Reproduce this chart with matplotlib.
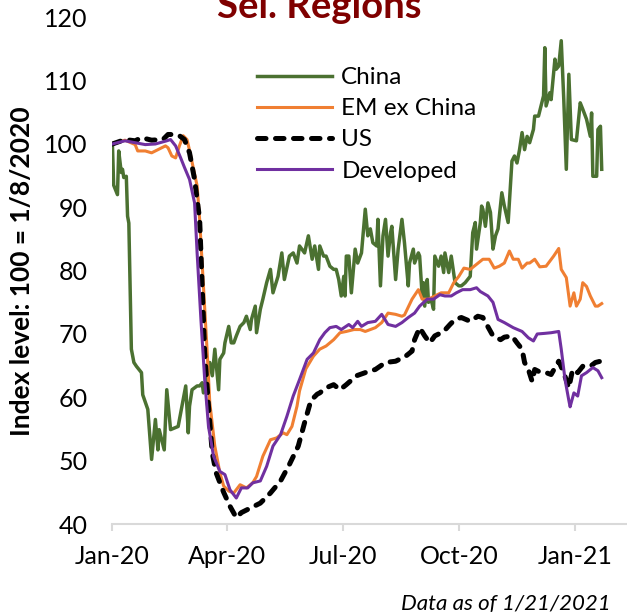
import numpy as np
import matplotlib
matplotlib.use("Agg")
import matplotlib.pyplot as plt
import matplotlib.dates as mdates

plt.rcParams['font.family'] = ['Lato', 'DejaVu Sans']

# days since 2020-01-01 and index level (100 = 1/8/2020)
china_days = [0, 1, 3, 4, 5, 7, 8, 9, 11, 12, 13, 15, 17, 19, 23, 24, 28, 31, 34, 36, 37, 41, 43, 46,
              52, 58, 60, 61, 63, 67, 69, 71, 72, 75, 77, 79, 81, 84, 85, 88, 89, 92, 94, 96, 98, 101,
              104, 106, 109, 110, 113, 114, 117, 119, 122, 125, 127, 131, 134, 136, 140, 143, 146, 148,
              152, 155, 158, 160, 163, 164, 167, 169, 172, 175, 177, 179, 181, 183, 184, 185, 187, 189,
              192, 194, 197, 200, 202, 204, 206, 209, 210, 212, 214, 216, 218, 220, 221, 224, 226, 229,
              231, 234, 235, 238, 239, 242, 243, 245, 246, 247, 249, 250, 252, 254, 255, 258, 260, 262,
              263, 266, 268, 271, 274, 276, 279, 283, 285, 287, 288, 291, 292, 293, 295, 297, 299, 301,
              303, 305, 308, 310, 313, 316, 318, 320, 322, 324, 326, 328, 330, 333, 334, 337, 340, 341,
              342, 343, 346, 347, 350, 351, 353, 355, 357, 359, 361, 363, 367, 370, 372, 375, 378, 379,
              380, 383, 384, 386, 387]
china = [100, 93.5, 92.5, 92.0, 98.9, 95.5, 96.0, 94.7, 94.9, 88.6, 87.5, 67.6, 65.5, 64.9, 63.9, 60.4,
         58.1, 50.2, 56.5, 51.7, 54.9, 51.7, 61.2, 54.9, 55.4, 61.8, 54.4, 58.6, 61.2, 61.8, 61.8, 62.3,
         60.7, 63.4, 65.5, 63.4, 67.6, 61.2, 66.0, 67.0, 68.6, 71.2, 68.6, 68.6, 69.7, 71.2, 71.8, 72.8,
         70.7, 72.3, 74.4, 70.2, 73.9, 75.5, 78.1, 80.2, 76.5, 79.1, 82.8, 78.6, 82.3, 82.8, 81.2, 83.9,
         82.8, 85.5, 81.8, 83.9, 80.2, 83.9, 82.3, 82.3, 80.7, 80.2, 80.2, 78.6, 76.0, 79.1, 76.0, 82.3,
         82.3, 76.5, 83.4, 81.2, 82.8, 89.7, 85.5, 86.6, 84.4, 83.9, 88.1, 77.6, 85.5, 88.1, 82.3, 86.0,
         87.0, 78.6, 83.4, 88.1, 84.4, 77.6, 81.2, 83.4, 81.2, 82.8, 82.3, 76.0, 78.1, 74.4, 78.6, 75.0,
         75.5, 73.9, 82.3, 80.7, 82.3, 79.7, 82.8, 79.7, 82.3, 78.1, 77.6, 77.6, 78.1, 79.1, 86.0, 87.6,
         83.4, 87.6, 90.2, 89.7, 87.0, 90.7, 89.2, 83.4, 85.5, 86.6, 92.3, 90.2, 87.6, 97.3, 98.1, 97.0,
         99.1, 101.8, 99.1, 101.2, 100.2, 102.3, 104.4, 104.4, 106.8, 107.6, 115.2, 106.0, 108.1, 107.0,
         113.4, 111.8, 112.3, 116.3, 107.0, 96.0, 111.0, 100.7, 100.5, 106.5, 105.5, 103.9, 101.2, 104.9,
         94.9, 94.9, 102.3, 102.8, 96.0]

em_days = [0, 10, 18, 20, 26, 31, 36, 42, 44, 47, 50, 53, 56, 59, 61, 67, 69, 72, 75, 77, 81, 85, 88,
           92, 96, 101, 106, 111, 114, 119, 125, 130, 135, 138, 142, 146, 148, 153, 159, 164, 169, 175,
           180, 185, 191, 196, 200, 208, 213, 218, 224, 229, 231, 237, 242, 245, 250, 255, 260, 266, 270,
           274, 278, 283, 288, 293, 298, 302, 306, 310, 314, 317, 321, 324, 328, 330, 334, 338, 343, 349,
           353, 355, 359, 362, 365, 367, 370, 372, 375, 378, 382, 384, 387]
em_ex_china = [100, 100.6, 99.9, 98.9, 98.9, 98.6, 99.1, 99.7, 99.4, 98.1, 97.8, 99.7, 101.3, 100.7, 99.0,
               93.4, 88.1, 77.6, 67.0, 59.2, 52.3, 48.1, 46.0, 45.2, 44.9, 46.2, 45.7, 46.5, 47.5, 50.7,
               53.3, 53.6, 54.4, 54.1, 55.4, 58.6, 61.0, 64.5, 66.5, 67.6, 68.1, 69.1, 70.2, 70.4, 70.7,
               70.7, 70.4, 71.0, 71.8, 73.3, 73.1, 72.8, 73.0, 75.5, 77.0, 75.5, 75.5, 76.0, 76.5, 76.5,
               78.1, 79.1, 80.4, 80.2, 81.0, 81.8, 81.8, 80.4, 80.7, 81.2, 83.1, 81.8, 81.8, 80.4, 81.2,
               81.2, 81.8, 80.6, 80.7, 82.3, 83.5, 80.2, 78.9, 74.4, 76.5, 74.4, 75.5, 78.1, 77.5, 76.0,
               74.4, 74.4, 74.8]

us_days = [0, 10, 18, 23, 31, 40, 44, 48, 53, 57, 61, 65, 69, 71, 73, 76, 79, 82, 88, 93, 98, 102, 109,
           117, 125, 133, 140, 147, 152, 157, 162, 164, 169, 175, 180, 185, 193, 200, 208, 216, 224, 232,
           237, 239, 243, 247, 251, 255, 262, 267, 271, 276, 283, 289, 293, 296, 301, 307, 310, 316, 320,
           324, 326, 329, 332, 334, 338, 343, 347, 353, 357, 361, 364, 368, 372, 378, 382, 386]
us = [100, 100.7, 100.5, 101.0, 100.6, 100.7, 101.5, 101.5, 101.3, 100.7, 98.6, 94.4, 88.1, 77.6, 67.0,
      58.6, 51.2, 48.1, 45.0, 42.8, 41.0, 41.8, 42.5, 43.3, 44.9, 46.8, 49.4, 52.3, 56.0, 59.5, 60.5,
      60.7, 61.5, 62.0, 61.2, 62.0, 63.4, 63.9, 64.4, 65.5, 65.7, 66.5, 67.3, 69.1, 71.0, 69.7, 68.6,
      69.7, 70.4, 71.5, 72.3, 72.6, 72.0, 72.8, 72.6, 71.5, 69.7, 69.1, 69.5, 69.7, 68.6, 67.6, 65.5,
      64.4, 62.5, 64.4, 64.0, 63.9, 63.6, 65.7, 63.9, 61.5, 64.4, 63.9, 64.9, 64.9, 65.5, 65.7]

dev_days = [0, 10, 26, 34, 43, 46, 50, 54, 57, 61, 65, 67, 70, 73, 76, 80, 85, 89, 93, 98, 102, 107, 111,
            117, 122, 127, 133, 138, 143, 148, 154, 159, 164, 168, 172, 177, 181, 187, 190, 194, 197, 202,
            208, 213, 218, 224, 229, 234, 239, 243, 249, 254, 259, 263, 268, 272, 277, 283, 288, 291, 297,
            301, 305, 310, 317, 324, 329, 333, 336, 342, 347, 353, 355, 358, 361, 362, 365, 368, 371, 375,
            380, 384, 387]
developed = [100, 100.5, 99.9, 100.0, 100.5, 100.7, 99.7, 97.8, 96.3, 94.4, 90.7, 82.8, 72.3, 62.8, 55.4,
             50.7, 48.3, 47.8, 45.4, 44.1, 45.7, 45.7, 46.5, 46.8, 49.1, 52.3, 54.1, 57.0, 60.2, 62.8,
             66.0, 67.0, 69.1, 70.2, 71.0, 71.2, 70.7, 71.5, 71.0, 72.0, 71.2, 71.8, 72.0, 73.1, 71.5,
             71.2, 71.8, 72.6, 73.3, 74.4, 75.5, 75.5, 76.2, 76.0, 76.0, 76.5, 77.0, 77.0, 77.3, 76.7,
             76.0, 75.0, 72.3, 71.8, 71.0, 70.4, 69.4, 68.9, 70.0, 70.1, 70.2, 70.4, 67.6, 62.8, 59.5,
             58.5, 60.7, 60.2, 63.4, 63.9, 64.7, 64.2, 63.1]

start = np.datetime64('2020-01-01')


def to_dates(days):
    return start + np.array(days).astype('timedelta64[D]')


fig = plt.figure(figsize=(6.27, 6.15), dpi=100)
ax = fig.add_axes([112.4 / 627, 91 / 615, 1 - 112.4 / 627, (524 - 17.3) / 615])

ax.plot(to_dates(china_days), china, color='#4B7131', lw=2.5, label='China')
ax.plot(to_dates(em_days), em_ex_china, color='#F07F32', lw=2.2, label='EM ex China')
ax.plot(to_dates(us_days), us, color='black', lw=3.6, ls=(0, (1.7, 1.9)), dash_capstyle='round',
        label='US')
ax.plot(to_dates(dev_days), developed, color='#7030A0', lw=2.2, label='Developed')

ax.set_ylim(40, 120)
ax.set_yticks(range(40, 121, 10))
ax.set_xlim(start, start + np.timedelta64(407, 'D'))
ax.xaxis.set_major_locator(mdates.MonthLocator(bymonth=[1, 4, 7, 10]))
ax.xaxis.set_major_formatter(mdates.DateFormatter('%b-%y'))

for side in ['top', 'right', 'left']:
    ax.spines[side].set_visible(False)
ax.spines['bottom'].set_color('#D9D9D9')
ax.spines['bottom'].set_linewidth(1.5)
ax.tick_params(axis='x', length=5, width=1.5, color='#D9D9D9', labelsize=18, pad=10)
ax.tick_params(axis='y', length=0, labelsize=18, pad=18)

fig.text(22 / 627, 1 - 271.5 / 615, 'Index level: 100 = 1/8/2020', rotation=90, ha='center',
         va='center', fontsize=19, fontweight='bold')

ax.legend(loc='upper left', bbox_to_anchor=(257 / 627, 1 - 67 / 615), bbox_transform=fig.transFigure,
          frameon=False, fontsize=17.5, handlelength=3.1, handletextpad=0.37, labelspacing=0.42,
          borderpad=0, borderaxespad=0)

fig.text(319 / 627, 1 - 18 / 615, 'Sel. Regions', ha='center', va='baseline', fontsize=27.5,
         fontweight='bold', color='#7F0000')
fig.text(611 / 627, 1 - 610 / 615, 'Data as of 1/21/2021', ha='right', va='baseline', fontsize=16,
         style='italic')

fig.savefig('out.png', dpi=100)
